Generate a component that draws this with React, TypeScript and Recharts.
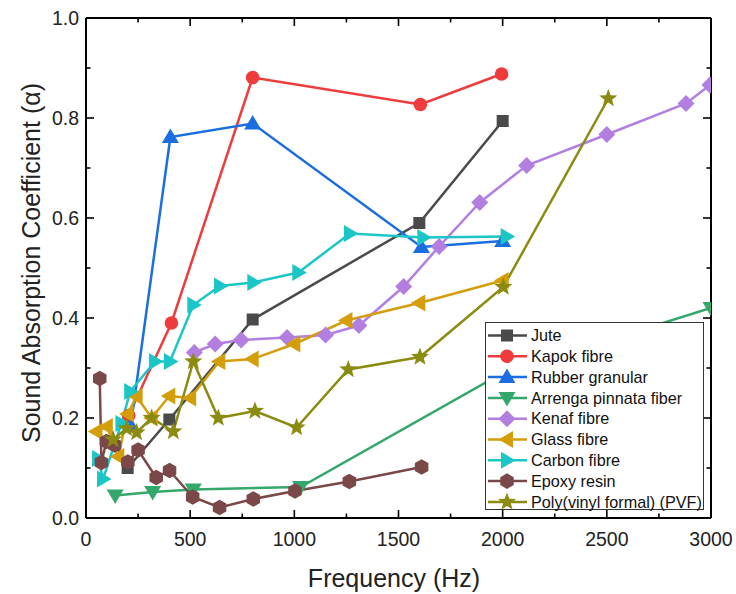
import React from "react";
import { LineChart, Line, XAxis, YAxis } from "recharts";

// ---- data ----
const juteFreq = [200, 400, 800, 1600, 2000];
const juteAlpha = [0.1, 0.197, 0.397, 0.59, 0.794];

const kapokFreq = [205, 410, 800, 1605, 1995];
const kapokAlpha = [0.205, 0.39, 0.881, 0.827, 0.888];

const rubberFreq = [215, 405, 800, 1610, 2000];
const rubberAlpha = [0.185, 0.762, 0.789, 0.542, 0.554];

const arrengaFreq = [140, 320, 515, 1030, 2000, 3000];
const arrengaAlpha = [0.045, 0.052, 0.057, 0.062, 0.29, 0.42];

const kenafFreq = [520, 620, 745, 965, 1150, 1310, 1525, 1695, 1890, 2115, 2500, 2880, 2995];
const kenafAlpha = [0.331, 0.348, 0.356, 0.361, 0.366, 0.385, 0.463, 0.543, 0.631, 0.705, 0.767, 0.829, 0.866];

const glassFreq = [50, 100, 155, 200, 243, 315, 400, 500, 640, 800, 1000, 1250, 1600, 2000];
const glassAlpha = [0.173, 0.183, 0.123, 0.208, 0.243, 0.2, 0.244, 0.24, 0.313, 0.318, 0.348, 0.395, 0.43, 0.475];

const carbonFreq = [58, 82, 170, 212, 331, 403, 515, 643, 803, 1019, 1267, 1619, 2019];
const carbonAlpha = [0.119, 0.078, 0.189, 0.253, 0.313, 0.313, 0.426, 0.464, 0.471, 0.491, 0.569, 0.561, 0.563];

const epoxyFreq = [66, 74, 98, 137, 201, 250, 337, 401, 512, 641, 803, 1003, 1264, 1611];
const epoxyAlpha = [0.279, 0.111, 0.153, 0.146, 0.112, 0.136, 0.081, 0.095, 0.042, 0.021, 0.038, 0.054, 0.073, 0.102];

const pvfFreq = [130, 195, 243, 315, 419, 515, 635, 811, 1011, 1259, 1603, 2003, 2507];
const pvfAlpha = [0.157, 0.179, 0.171, 0.2, 0.173, 0.313, 0.2, 0.214, 0.181, 0.297, 0.322, 0.462, 0.839];

const xTicks = [0, 250, 500, 750, 1000, 1250, 1500, 1750, 2000, 2250, 2500, 2750, 3000];
const yTicks = [0, 0.1, 0.2, 0.3, 0.4, 0.5, 0.6, 0.7, 0.8, 0.9, 1.0];

const xTitle = "Frequency (Hz)";
const yTitle = "Sound Absorption Coefficient (α)";

type Shape = "square" | "circle" | "triUp" | "triDown" | "diamond" | "triLeft" | "triRight" | "hexagon" | "star";

const zip = (f: number[], a: number[]) => f.map((v, i) => ({ f: v, a: a[i] }));

const series: { name: string; color: string; shape: Shape; data: { f: number; a: number }[] }[] = [
  { name: "Jute", color: "#4a4a4a", shape: "square", data: zip(juteFreq, juteAlpha) },
  { name: "Kapok fibre", color: "#ee3b3b", shape: "circle", data: zip(kapokFreq, kapokAlpha) },
  { name: "Rubber granular", color: "#1b6ee0", shape: "triUp", data: zip(rubberFreq, rubberAlpha) },
  { name: "Arrenga pinnata fiber", color: "#33a86a", shape: "triDown", data: zip(arrengaFreq, arrengaAlpha) },
  { name: "Kenaf fibre", color: "#b27fe0", shape: "diamond", data: zip(kenafFreq, kenafAlpha) },
  { name: "Glass fibre", color: "#d49d0a", shape: "triLeft", data: zip(glassFreq, glassAlpha) },
  { name: "Carbon fibre", color: "#1cc6c6", shape: "triRight", data: zip(carbonFreq, carbonAlpha) },
  { name: "Epoxy resin", color: "#7a4848", shape: "hexagon", data: zip(epoxyFreq, epoxyAlpha) },
  { name: "Poly(vinyl formal) (PVF)", color: "#8b8b12", shape: "star", data: zip(pvfFreq, pvfAlpha) },
];

const FONT = '"Liberation Sans", Arial, Helvetica, sans-serif';

function poly(pts: number[][]) {
  return pts.map((p) => p[0].toFixed(2) + "," + p[1].toFixed(2)).join(" ");
}

function Marker({ shape, cx, cy, color }: { shape: Shape; cx: number; cy: number; color: string }) {
  if (cx == null || cy == null || isNaN(cx) || isNaN(cy)) return null;
  switch (shape) {
    case "square":
      return <rect x={cx - 6} y={cy - 6} width={12} height={12} fill={color} />;
    case "circle":
      return <circle cx={cx} cy={cy} r={6.8} fill={color} />;
    case "triUp":
      return <polygon points={poly([[cx, cy - 8.5], [cx + 8.5, cy + 6], [cx - 8.5, cy + 6]])} fill={color} />;
    case "triDown":
      return <polygon points={poly([[cx, cy + 8.5], [cx + 8.5, cy - 6], [cx - 8.5, cy - 6]])} fill={color} />;
    case "triLeft":
      return <polygon points={poly([[cx - 8.5, cy], [cx + 6, cy - 8.5], [cx + 6, cy + 8.5]])} fill={color} />;
    case "triRight":
      return <polygon points={poly([[cx + 8.5, cy], [cx - 6, cy - 8.5], [cx - 6, cy + 8.5]])} fill={color} />;
    case "diamond":
      return <polygon points={poly([[cx, cy - 8.5], [cx + 8.5, cy], [cx, cy + 8.5], [cx - 8.5, cy]])} fill={color} />;
    case "hexagon": {
      const pts: number[][] = [];
      for (let i = 0; i < 6; i++) {
        const ang = ((-90 + i * 60) * Math.PI) / 180;
        pts.push([cx + 7.8 * Math.cos(ang), cy + 7.8 * Math.sin(ang)]);
      }
      return <polygon points={poly(pts)} fill={color} />;
    }
    case "star": {
      const pts: number[][] = [];
      for (let i = 0; i < 10; i++) {
        const ang = ((-90 + i * 36) * Math.PI) / 180;
        const r = i % 2 === 0 ? 9.5 : 4;
        pts.push([cx + r * Math.cos(ang), cy + r * Math.sin(ang)]);
      }
      return <polygon points={poly(pts)} fill={color} />;
    }
  }
  return null;
}

const MAJ = 8;
const MIN = 4.5;

const BottomTick = (props: any) => {
  const { x, y, payload } = props;
  const v = payload.value;
  const major = v % 500 === 0;
  return (
    <g>
      <line x1={x} y1={y} x2={x} y2={y - (major ? MAJ : MIN)} stroke="#000" strokeWidth={1.6} />
      {major && (
        <text x={x} y={y + 28} textAnchor="middle" fontSize={19.5} fontFamily={FONT} fill="#222">
          {String(v)}
        </text>
      )}
    </g>
  );
};

const TopTick = (props: any) => {
  const { x, y, payload } = props;
  const major = payload.value % 500 === 0;
  return <line x1={x} y1={y} x2={x} y2={y + (major ? MAJ : MIN)} stroke="#000" strokeWidth={1.6} />;
};

const LeftTick = (props: any) => {
  const { x, y, payload } = props;
  const v = payload.value;
  const major = Math.round(v * 10) % 2 === 0;
  return (
    <g>
      <line x1={x} y1={y} x2={x + (major ? MAJ : MIN)} y2={y} stroke="#000" strokeWidth={1.6} />
      {major && (
        <text x={x - 7} y={y + 7} textAnchor="end" fontSize={19.5} fontFamily={FONT} fill="#222">
          {v.toFixed(1)}
        </text>
      )}
    </g>
  );
};

const RightTick = (props: any) => {
  const { x, y, payload } = props;
  const major = Math.round(payload.value * 10) % 2 === 0;
  return <line x1={x} y1={y} x2={x - (major ? MAJ : MIN)} y2={y} stroke="#000" strokeWidth={1.6} />;
};

function LegendBox() {
  const rowH = 20.8;
  return (
    <div
      style={{
        position: "absolute",
        left: 485,
        top: 322,
        width: 219,
        height: 188,
        background: "#fff",
        border: "1px solid #333",
        boxSizing: "border-box",
        zIndex: 2,
      }}
    >
      <svg width={219} height={188} style={{ position: "absolute", left: 0, top: 0 }}>
        {series.map((s, i) => {
          const cy = 12.5 + i * rowH;
          return (
            <g key={s.name}>
              <line x1={2} x2={41} y1={cy} y2={cy} stroke={s.color} strokeWidth={2.5} />
              <Marker shape={s.shape} cx={21} cy={cy} color={s.color} />
              <text x={45} y={cy + 5.6} fontSize={16.2} fontFamily={FONT} fill="#111">
                {s.name}
              </text>
            </g>
          );
        })}
      </svg>
    </div>
  );
}

export default function App() {
  return (
    <div style={{ position: "absolute", left: 0, top: 0, width: 736, height: 594, background: "#fff" }}>
      <LineChart width={736} height={594} margin={{ top: 13, right: 20, bottom: 6, left: 0 }}>
        <XAxis
          xAxisId="bottom"
          dataKey="f"
          type="number"
          domain={[0, 3000]}
          ticks={xTicks}
          allowDataOverflow
          orientation="bottom"
          height={70}
          tickSize={0}
          tickMargin={0}
          tickLine={false}
          axisLine={{ stroke: "#000", strokeWidth: 2 }}
          tick={<BottomTick />}
          interval={0}
        />
        <XAxis
          xAxisId="top"
          dataKey="f"
          type="number"
          domain={[0, 3000]}
          ticks={xTicks}
          allowDataOverflow
          orientation="top"
          height={5}
          tickSize={0}
          tickMargin={0}
          tickLine={false}
          axisLine={{ stroke: "#000", strokeWidth: 2 }}
          tick={<TopTick />}
          interval={0}
        />
        <YAxis
          yAxisId="left"
          type="number"
          domain={[0, 1]}
          ticks={yTicks}
          allowDataOverflow
          orientation="left"
          width={86}
          tickSize={0}
          tickMargin={0}
          tickLine={false}
          axisLine={{ stroke: "#000", strokeWidth: 2 }}
          tick={<LeftTick />}
          interval={0}
        />
        <YAxis
          yAxisId="right"
          type="number"
          domain={[0, 1]}
          ticks={yTicks}
          allowDataOverflow
          orientation="right"
          width={5}
          tickSize={0}
          tickMargin={0}
          tickLine={false}
          axisLine={{ stroke: "#000", strokeWidth: 2 }}
          tick={<RightTick />}
          interval={0}
        />
        {series.map((s) => (
          <Line
            key={s.name}
            xAxisId="bottom"
            yAxisId="left"
            data={s.data}
            dataKey="a"
            type="linear"
            stroke={s.color}
            strokeWidth={2.5}
            isAnimationActive={false}
            activeDot={false}
            dot={(p: any) => <Marker key={s.name + p.index} shape={s.shape} cx={p.cx} cy={p.cy} color={s.color} />}
          />
        ))}
      </LineChart>
      <div
        style={{
          position: "absolute",
          left: 394,
          top: 578,
          transform: "translate(-50%, -50%)",
          fontFamily: FONT,
          fontSize: 25,
          color: "#222",
          whiteSpace: "nowrap",
        }}
      >
        {xTitle}
      </div>
      <div
        style={{
          position: "absolute",
          left: 31,
          top: 263,
          transform: "translate(-50%, -50%) rotate(-90deg)",
          fontFamily: FONT,
          fontSize: 25,
          color: "#222",
          whiteSpace: "nowrap",
        }}
      >
        {yTitle}
      </div>
      <LegendBox />
    </div>
  );
}
